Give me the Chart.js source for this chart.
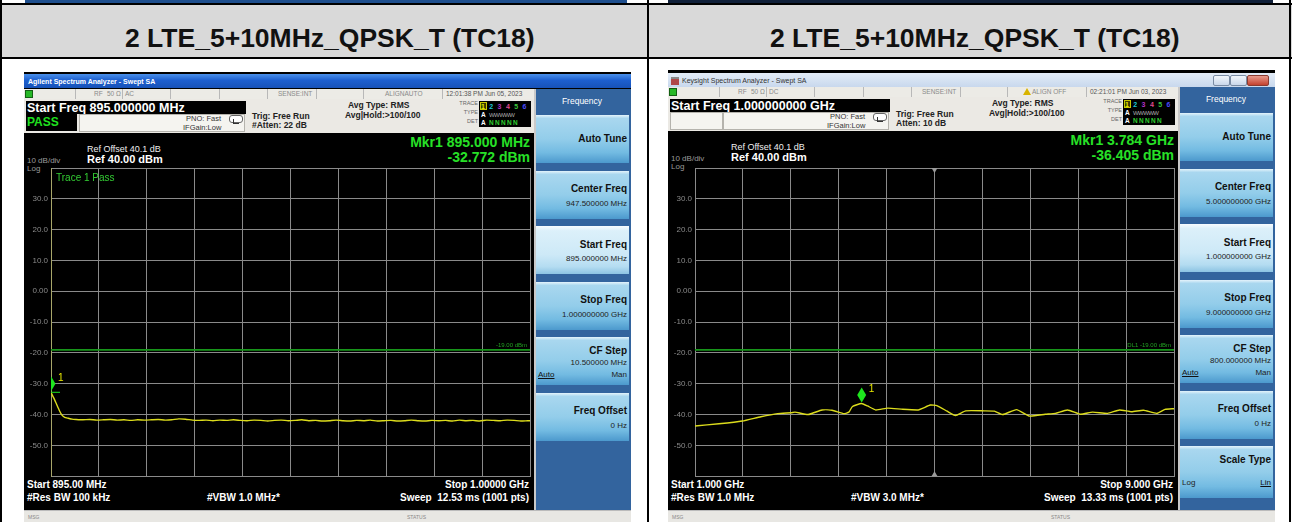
<!DOCTYPE html>
<html>
<head>
<meta charset="utf-8">
<script src="https://cdn.jsdelivr.net/npm/chart.js@4.4.1/dist/chart.umd.min.js"></script>
<style>
  body { margin:0; width:1292px; height:522px; position:relative; overflow:hidden; background:#fff;
         font-family: Arial, "Liberation Sans", sans-serif; }
  .a { position:absolute; white-space:nowrap; }
  .key { position:absolute; left:512px; width:93px; height:48px;
         background:linear-gradient(to bottom,#e4f3fb 0,#a9d7ef 7%,#93cdea 50%,#73bbe2 78%,#4c99cd 100%); }
  .key.sel { background:linear-gradient(to bottom,#f7fcff 0,#dcf0fa 10%,#cde9f7 60%,#b4dcf1 85%,#8cc3e3 100%); }
  canvas { position:absolute; }
</style>
</head>
<body>
<canvas id="left" width="508" height="324" style="left:24px;top:160px;z-index:5"></canvas>
<canvas id="right" width="508" height="324" style="left:668px;top:160px;z-index:5"></canvas>
<script>
// ---- chart data ----
const TITLE = '2 LTE_5+10MHz_QPSK_T (TC18)';
const yTicks = [40, 30, 20, 10, 0, -10, -20, -30, -40, -50, -60];
const limitDbm = -19.0;

const leftRange = [895, 1000];   // MHz
const leftFreqMHz = [
  895.0, 895.6, 896.2, 896.8, 897.4, 898.0, 898.8, 899.6, 900.5,
  902.0, 903.5, 905.0, 906.5, 908.0, 909.5, 911.0, 912.5, 914.0, 915.5,
  917.0, 918.5, 920.0, 921.5, 923.0, 924.5, 926.0, 927.5, 929.0, 930.5,
  932.0, 933.5, 935.0, 936.5, 938.0, 939.5, 941.0, 942.5, 944.0, 945.5,
  947.0, 948.5, 950.0, 951.5, 953.0, 954.5, 956.0, 957.5, 959.0, 960.5,
  962.0, 963.5, 965.0, 966.5, 968.0, 969.5, 971.0, 972.5, 974.0, 975.5,
  977.0, 978.5, 980.0, 981.5, 983.0, 984.5, 986.0, 987.5, 989.0, 990.5,
  992.0, 993.5, 995.0, 996.5, 998.0, 999.5, 1000.0
];
const leftLevelDbm = [
  -32.8, -34.6, -36.6, -38.6, -40.2, -40.9, -41.2, -41.5, -41.6,
  -41.7, -41.6, -41.8, -41.7, -41.6, -41.8, -41.7, -41.9, -41.7, -41.8,
  -41.7, -41.6, -41.8, -41.7, -41.4, -41.5, -41.8, -41.9, -41.8, -42.0,
  -41.8, -41.9, -41.7, -41.9, -42.0, -41.8, -41.9, -42.1, -41.9, -41.8,
  -42.0, -41.9, -41.7, -42.0, -41.9, -42.1, -42.0, -41.8, -42.0, -42.1,
  -41.9, -42.0, -41.8, -42.1, -42.0, -41.9, -42.1, -42.0, -41.8, -42.0,
  -42.1, -41.9, -42.0, -41.9, -42.1, -41.8, -42.0, -41.9, -42.1, -41.8,
  -41.9, -42.0, -41.8, -41.9, -42.1, -42.0, -42.0
];
const leftMarker = [895.0, -32.772];

const rightRange = [1, 9];       // GHz
const rightFreqGHz = [
  1.00, 1.40, 1.79, 2.10, 2.38, 2.61, 2.67, 2.89, 3.12, 3.29,
  3.49, 3.57, 3.63, 3.78, 3.88, 4.02, 4.22, 4.47, 4.73, 4.81,
  4.93, 5.04, 5.21, 5.35, 5.52, 5.83, 6.00, 6.14, 6.37, 6.59,
  6.85, 7.02, 7.22, 7.44, 7.64, 7.89, 8.09, 8.29, 8.49, 8.71,
  8.85, 9.00
];
const rightLevelDbm = [
  -43.7, -43.0, -42.1, -40.7, -39.7, -39.4, -39.2, -40.0, -38.5, -38.6,
  -39.7, -39.2, -37.4, -36.4, -37.2, -38.5, -37.9, -38.3, -38.5, -37.9,
  -36.9, -37.1, -38.9, -40.3, -38.8, -38.8, -38.9, -40.0, -38.4, -40.5,
  -39.9, -39.6, -38.5, -39.9, -39.2, -39.6, -38.5, -39.1, -38.6, -39.6,
  -38.3, -38.1
];
const rightMarker = [3.784, -36.405];

// ---- page chrome helpers ----
function el(p, css, html) {
  const d = document.createElement('div');
  d.className = 'a';
  d.style.cssText = css;
  if (html != null) d.innerHTML = html;
  p.appendChild(d);
  return d;
}
function txt(p, x, yc, fs, s, extra, align) {
  const lh = Math.round(fs * 1.25);
  let pos = `left:${x}px;`;
  if (align === 'r') pos = `left:${x - 400}px;width:400px;text-align:right;`;
  if (align === 'c') pos = `left:${x - 200}px;width:400px;text-align:center;`;
  return el(p, `${pos}top:${yc - lh / 2}px;line-height:${lh}px;font-size:${fs}px;${extra || ''}`, s);
}

// table frame
const B = document.body;
el(B, 'left:25px;top:0;width:602px;height:3px;background:#1f4f8e');
el(B, 'left:668px;top:0;width:605px;height:3px;background:#10203a');
el(B, 'left:0;top:3px;width:1292px;height:2px;background:#000');
el(B, 'left:0;top:5px;width:1292px;height:52px;background:#d9d9d9');
el(B, 'left:0;top:57px;width:1292px;height:2px;background:#000');
el(B, 'left:0;top:0;width:2px;height:522px;background:#000');
el(B, 'left:647px;top:0;width:2px;height:522px;background:#000');
el(B, 'left:1289px;top:0;width:2px;height:522px;background:#000');
txt(B, 325, 38.5, 26.5, TITLE, 'font-weight:bold;color:#111', 'c');
txt(B, 970, 38.5, 26.5, TITLE, 'font-weight:bold;color:#111', 'c');

const panels = [
  { x: 24, y: 72, xp: true, win: 'Agilent Spectrum Analyzer - Swept SA', cpl: 'AC', align: 'ALIGNAUTO',
    time: '12:01:38 PM Jun 05, 2023', start: 'Start Freq 895.000000 MHz', pass: true, atten: '#Atten: 22 dB',
    mkr: ['Mkr1 895.000 MHz', '-32.772 dBm'],
    foot: ['Start 895.00 MHz', '#Res BW 100 kHz', '#VBW 1.0 MHz*', 'Stop 1.00000 GHz', 'Sweep&nbsp; 12.53 ms (1001 pts)'],
    keys: [['Auto Tune'], ['Center Freq', '947.500000 MHz'], ['Start Freq', '895.000000 MHz', 'sel'],
           ['Stop Freq', '1.000000000 GHz'], ['CF Step', '10.500000 MHz', 'auto'], ['Freq Offset', '0 Hz']] },
  { x: 668, y: 70, xp: false, win: 'Keysight Spectrum Analyzer - Swept SA', cpl: 'DC', align: 'ALIGN OFF',
    time: '02:21:01 PM Jun 03, 2023', start: 'Start Freq 1.000000000 GHz', pass: false, atten: 'Atten: 10 dB',
    mkr: ['Mkr1 3.784 GHz', '-36.405 dBm'],
    foot: ['Start 1.000 GHz', '#Res BW 1.0 MHz', '#VBW 3.0 MHz*', 'Stop 9.000 GHz', 'Sweep&nbsp; 13.33 ms (1001 pts)'],
    keys: [['Auto Tune'], ['Center Freq', '5.000000000 GHz'], ['Start Freq', '1.000000000 GHz', 'sel'],
           ['Stop Freq', '9.000000000 GHz'], ['CF Step', '800.000000 MHz', 'auto'], ['Freq Offset', '0 Hz'],
           ['Scale Type', '', 'scale']] }
];
const keyTops = [43, 98.5, 154, 209.5, 265, 320.5, 376];

function buildPanel(c) {
  const H = 522 - c.y;
  const w = el(B, `left:${c.x}px;top:${c.y}px;width:607px;height:${H}px;background:#000;overflow:hidden`);
  // title bar
  if (c.xp) {
    el(w, 'left:0;top:2px;width:607px;height:14px;background:linear-gradient(to bottom,#4a90ea,#1d5fcf 45%,#1752b8)');
    txt(w, 4, 9, 7, c.win, 'color:#fff;font-weight:bold');
  } else {
    el(w, 'left:0;top:3px;width:607px;height:14px;background:linear-gradient(to bottom,#e3ecf7,#c8d8ed)');
    el(w, 'left:3px;top:7px;width:8px;height:6px;background:#b04848;border-top:2px solid #888');
    txt(w, 14, 10, 7, c.win, 'color:#333');
    el(w, 'left:545px;top:5px;width:15px;height:9px;border:1px solid #7a8ba3;border-radius:2px;background:linear-gradient(#f2f6fb,#c9d7ea)');
    el(w, 'left:562px;top:5px;width:15px;height:9px;border:1px solid #7a8ba3;border-radius:2px;background:linear-gradient(#f2f6fb,#c9d7ea)');
    el(w, 'left:579px;top:5px;width:20px;height:9px;border:1px solid #8a3a30;border-radius:2px;background:linear-gradient(#e99a8c,#c4422f)');
  }
  // status row
  el(w, 'left:0;top:17px;width:510px;height:10px;background:#ecebe6');
  el(w, 'left:1px;top:18px;width:8px;height:8px;background:#27b827;border:1px solid #136013;box-sizing:border-box');
  [51, 98, 146, 195, 243, 292, 339, 418].forEach(x => el(w, `left:${x}px;top:17px;width:1px;height:10px;background:#b8b8b8`));
  const sc = 'color:#8a8a8a';
  txt(w, 70, 22, 6.5, 'RF', sc);
  txt(w, 83, 22, 6.5, '50 &Omega;', sc);
  txt(w, 101, 22, 6.5, c.cpl, sc);
  txt(w, 254, 22, 6.5, 'SENSE:INT', sc);
  if (c.xp) txt(w, 361, 22, 6.5, c.align, sc);
  else {
    el(w, 'left:355px;top:18px;width:0;height:0;border-left:4px solid transparent;border-right:4px solid transparent;border-bottom:7px solid #d8b400');
    txt(w, 364, 22, 6.5, c.align, sc);
  }
  txt(w, 422, 22, 6.5, c.time, 'color:#555');
  // info row
  el(w, 'left:0;top:27px;width:510px;height:34px;background:#ebe9e4');
  el(w, 'left:2px;top:29px;width:220px;height:13px;background:#000');
  txt(w, 3, 35.5, 12.5, c.start, 'color:#fff;font-weight:bold');
  el(w, 'left:55px;top:42px;width:166px;height:18px;background:#f5f4f0;border:1px solid #b5b3ad;box-sizing:border-box');
  if (c.pass) {
    el(w, 'left:2px;top:42px;width:51px;height:17px;background:#000');
    txt(w, 3, 50.5, 12, 'PASS', 'color:#1fe01f;font-weight:bold');
  } else {
    el(w, 'left:2px;top:42px;width:53px;height:18px;background:#f5f4f0;border:1px solid #b5b3ad;box-sizing:border-box');
  }
  const ic = 'color:#333';
  txt(w, 162, 46, 7.5, 'PNO: Fast', ic);
  txt(w, 159, 55, 7.5, 'IFGain:Low', ic);
  el(w, 'left:205px;top:43px;width:12px;height:6px;border:1px solid #666;border-radius:3px;background:#fff');
  el(w, 'left:209px;top:47px;width:5px;height:4px;border-left:1px solid #333;border-bottom:1px solid #333');
  txt(w, 228, 44.5, 8.5, 'Trig: Free Run', 'color:#222;font-weight:bold');
  txt(w, 228, 53.5, 8.5, c.atten, 'color:#222;font-weight:bold');
  txt(w, 324, 33.5, 8.5, 'Avg Type: RMS', 'color:#222;font-weight:bold');
  txt(w, 321, 43, 8.5, 'Avg|Hold:&gt;100/100', 'color:#222;font-weight:bold');
  txt(w, 454, 31.5, 5.5, 'TRACE', 'color:#666', 'r');
  txt(w, 454, 40.5, 5.5, 'TYPE', 'color:#666', 'r');
  txt(w, 454, 49.5, 5.5, 'DET', 'color:#666', 'r');
  el(w, 'left:455px;top:29px;width:52px;height:26px;background:#000');
  el(w, 'left:456px;top:30px;width:7px;height:8px;border:1px solid #c8c800;box-sizing:border-box;background:#3a3a00');
  const tc = ['#e8e800', '#19c8d8', '#b030c8', '#e04a90', '#3cc83c', '#4a4aff'];
  tc.forEach((col, i) => txt(w, 457 + i * 8.3, 34, 7, String(i + 1), `color:${col};font-weight:bold`));
  txt(w, 457, 42.5, 6.5, 'A', 'color:#fff;font-weight:bold');
  txt(w, 465, 42.5, 6, 'WWWWW', 'color:#aaa;letter-spacing:-0.6px');
  txt(w, 457, 51, 6.5, 'A', 'color:#fff;font-weight:bold');
  txt(w, 465, 51, 6.5, 'N&thinsp;N&thinsp;N&thinsp;N&thinsp;N', 'color:#2fd02f;font-weight:bold');
  // black display texts
  txt(w, 63, 77, 9, 'Ref Offset 40.1 dB', 'color:#eee');
  txt(w, 63, 87, 11, 'Ref 40.00 dBm', 'color:#fff;font-weight:bold');
  txt(w, 3, 88.5, 8, '10 dB/div', 'color:#9a9a9a');
  txt(w, 3, 96.5, 8, 'Log', 'color:#9a9a9a');
  txt(w, 506, 69.5, 14, c.mkr[0], 'color:#27e027;font-weight:bold', 'r');
  txt(w, 506, 85, 14, c.mkr[1], 'color:#27e027;font-weight:bold', 'r');
  const fy1 = 484 - c.y, fy2 = 497 - c.y;
  txt(w, 3, fy1, 10, c.foot[0], 'color:#fff;font-weight:bold');
  txt(w, 3, fy2, 10, c.foot[1], 'color:#fff;font-weight:bold');
  txt(w, 183, fy2, 10, c.foot[2], 'color:#fff;font-weight:bold');
  txt(w, 505, fy1, 10, c.foot[3], 'color:#fff;font-weight:bold', 'r');
  txt(w, 505, fy2, 10, c.foot[4], 'color:#fff;font-weight:bold', 'r');
  // msg bar
  el(w, `left:0;top:${510 - c.y}px;width:607px;height:12px;background:#e8e7e3;border-top:1px solid #bbb`);
  txt(w, 4, 517 - c.y, 5, 'MSG', 'color:#888');
  txt(w, 383, 517 - c.y, 5, 'STATUS', 'color:#888');
  // softkeys
  el(w, `left:510px;top:17px;width:97px;height:${510 - c.y - 17}px;background:#33649e;border-left:2px solid #c9c9c9;box-sizing:border-box`);
  txt(w, 558, 29, 8.5, 'Frequency', 'color:#fff', 'c');
  c.keys.forEach((k, i) => {
    const t = keyTops[i];
    const kd = el(w, `top:${t}px;height:${k[2] === 'scale' ? 52 : 48}px`);
    kd.className = 'key' + (k[2] === 'sel' ? ' sel' : '');
    const kb = 'color:#111;font-weight:bold';
    if (k.length === 1) { txt(w, 603, t + 23, 10, k[0], kb, 'r'); return; }
    if (k[2] === 'auto') {
      txt(w, 603, t + 13, 10, k[0], kb, 'r');
      txt(w, 603, t + 26, 8, k[1], 'color:#222', 'r');
      txt(w, 514, t + 38, 8, 'Auto', 'color:#111;text-decoration:underline');
      txt(w, 603, t + 38, 8, 'Man', 'color:#222', 'r');
      return;
    }
    if (k[2] === 'scale') {
      txt(w, 603, t + 13, 10, k[0], kb, 'r');
      txt(w, 514, t + 37, 8, 'Log', 'color:#222');
      txt(w, 603, t + 37, 8, 'Lin', 'color:#111;text-decoration:underline', 'r');
      return;
    }
    txt(w, 603, t + 18, 10, k[0], kb, 'r');
    txt(w, 603, t + 33, 8, k[1], 'color:#222', 'r');
  });
}
panels.forEach(buildPanel);
txt(B, 56, 177, 10, 'Trace 1 Pass', 'color:#33cc33;z-index:6');

// ---- charts ----
const saOverlay = {
  id: 'saOverlay',
  afterDatasetsDraw(chart, args, o) {
    const { ctx, chartArea: a, scales: { x, y } } = chart;
    ctx.save();
    const ly = y.getPixelForValue(limitDbm);
    ctx.fillStyle = '#22a022';
    ctx.font = '6px Arial';
    ctx.textAlign = 'right';
    ctx.fillText(o.limitText, a.right - 3, ly - 3);
    if (o.centerMarks) {
      const cx = (a.left + a.right) / 2;
      ctx.fillStyle = '#9a9a9a';
      ctx.beginPath(); ctx.moveTo(cx - 3, a.top); ctx.lineTo(cx + 3, a.top); ctx.lineTo(cx, a.top + 5); ctx.fill();
      ctx.beginPath(); ctx.moveTo(cx - 3, a.bottom); ctx.lineTo(cx + 3, a.bottom); ctx.lineTo(cx, a.bottom - 5); ctx.fill();
    }
    const px = x.getPixelForValue(o.marker[0]);
    const py = y.getPixelForValue(o.marker[1]);
    ctx.fillStyle = '#e6e600';
    ctx.font = '10px Arial';
    ctx.textAlign = 'left';
    ctx.fillText('1', px + 7, py - 11);
    ctx.beginPath(); ctx.rect(a.left, a.top, a.right - a.left, a.bottom - a.top); ctx.clip();
    ctx.fillStyle = '#1ee61e';
    ctx.beginPath();
    ctx.moveTo(px, py - 16); ctx.lineTo(px + 4.5, py - 8.5); ctx.lineTo(px, py - 1); ctx.lineTo(px - 4.5, py - 8.5);
    ctx.closePath(); ctx.fill();
    if (o.tick) {
      ctx.strokeStyle = '#1ee61e'; ctx.lineWidth = 1;
      ctx.beginPath(); ctx.moveTo(px, py); ctx.lineTo(px + 9, py); ctx.stroke();
    }
    ctx.restore();
  }
};

function gridTicks(r) {
  const t = [];
  for (let i = 0; i <= 10; i++) t.push({ value: r[0] + (r[1] - r[0]) * i / 10 });
  return t;
}

function makeChart(id, freq, level, range, marker, o) {
  return new Chart(document.getElementById(id), {
    type: 'scatter',
    data: {
      datasets: [
        { data: freq.map((f, i) => ({ x: f, y: level[i] })), showLine: true, borderColor: '#dcdc1c',
          borderWidth: 1.4, pointRadius: 0, tension: 0.15, order: 1 },
        { data: [{ x: range[0], y: limitDbm }, { x: range[1], y: limitDbm }], showLine: true,
          borderColor: '#17961a', borderWidth: 1.6, pointRadius: 0, order: 2 }
      ]
    },
    options: {
      responsive: false, animation: false, devicePixelRatio: 1,
      layout: { padding: { top: 8, right: 2, bottom: 7, left: 0 } },
      plugins: {
        legend: { display: false }, tooltip: { enabled: false },
        saOverlay: { marker: marker, limitText: o.limitText, centerMarks: o.centerMarks, tick: o.tick }
      },
      scales: {
        x: {
          type: 'linear', min: range[0], max: range[1],
          afterBuildTicks: s => { s.ticks = gridTicks(range); },
          afterFit: s => { s.height = 0; },
          ticks: { display: false },
          grid: { color: '#8a8a8a', drawTicks: false },
          border: { color: '#8a8a8a' }
        },
        y: {
          min: -60, max: 40,
          afterBuildTicks: s => { s.ticks = yTicks.map(v => ({ value: v })); },
          afterFit: s => { s.width = 27; },
          ticks: {
            color: '#8a8a8a', padding: 3, font: { size: 8, family: 'Arial' },
            callback: v => (v === 40 || v === -60) ? '' : (v === 0 ? '0.00' : v.toFixed(1))
          },
          grid: { color: '#8a8a8a', drawTicks: false },
          border: { color: o.edge }
        }
      }
    },
    plugins: [saOverlay]
  });
}

makeChart('left', leftFreqMHz, leftLevelDbm, leftRange, leftMarker,
  { limitText: '-19.00 dBm', centerMarks: false, tick: true, edge: '#a8a66a' });
makeChart('right', rightFreqGHz, rightLevelDbm, rightRange, rightMarker,
  { limitText: 'DL1 -19.00 dBm', centerMarks: true, tick: false, edge: '#8a8a8a' });
</script>
</body>
</html>
